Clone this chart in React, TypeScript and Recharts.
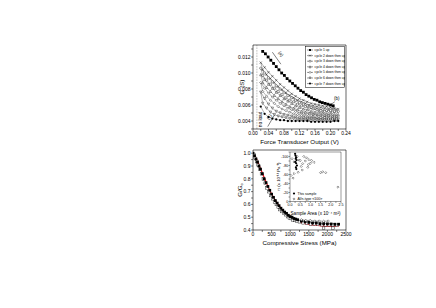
import {
  ComposedChart,
  Legend,
  Line,
  ReferenceDot,
  ReferenceLine,
  Scatter,
  XAxis,
  YAxis,
} from 'recharts';

const FONT = '"Liberation Sans", Arial, Helvetica, sans-serif';

// ---- top panel: G vs force transducer output ----
const forceTicks = [0, 0.02, 0.04, 0.06, 0.08, 0.1, 0.12, 0.14, 0.16, 0.18, 0.2, 0.22, 0.24];
const gTicks = [0.003, 0.004, 0.005, 0.006, 0.007, 0.008, 0.009, 0.01, 0.011, 0.012, 0.013];

const cycle1Force = [0.025, 0.032, 0.039, 0.046, 0.053, 0.06, 0.067, 0.074, 0.081, 0.088, 0.095, 0.102, 0.109, 0.116, 0.123, 0.13, 0.137, 0.144, 0.151, 0.158, 0.165, 0.172, 0.179, 0.186, 0.193, 0.2, 0.207];
const cycle1G = [0.0127, 0.0124, 0.012, 0.0116, 0.0112, 0.0108, 0.0104, 0.01, 0.0097, 0.0093, 0.009, 0.0087, 0.0084, 0.0081, 0.0078, 0.0076, 0.0073, 0.0071, 0.0069, 0.0067, 0.0066, 0.0064, 0.0063, 0.0062, 0.0061, 0.006, 0.0059];

// down branch read at 0.02..0.22, return branch at 0.025..0.215
const downForce = [0.02, 0.03, 0.04, 0.05, 0.06, 0.07, 0.08, 0.09, 0.1, 0.11, 0.12, 0.13, 0.14, 0.15, 0.16, 0.17, 0.18, 0.19, 0.2, 0.21, 0.22];
const upForce = [0.025, 0.035, 0.045, 0.055, 0.065, 0.075, 0.085, 0.095, 0.105, 0.115, 0.125, 0.135, 0.145, 0.155, 0.165, 0.175, 0.185, 0.195, 0.205, 0.215];
const cycle2Down = [0.0113, 0.0107, 0.0101, 0.0096, 0.0091, 0.0086, 0.0082, 0.0078, 0.0074, 0.0071, 0.0068, 0.0066, 0.0064, 0.0062, 0.0061, 0.006, 0.0059, 0.0058, 0.0057, 0.0056, 0.0055];
const cycle2Up = [0.0104, 0.0098, 0.0093, 0.0088, 0.0083, 0.0079, 0.0075, 0.0072, 0.0069, 0.0066, 0.0064, 0.0062, 0.006, 0.0059, 0.0058, 0.0057, 0.0056, 0.0055, 0.0055, 0.0054];
const cycle3Down = [0.0106, 0.01, 0.0094, 0.0089, 0.0084, 0.008, 0.0076, 0.0072, 0.0069, 0.0066, 0.0063, 0.0061, 0.0059, 0.0057, 0.0056, 0.0055, 0.0054, 0.0053, 0.0053, 0.0052, 0.0052];
const cycle3Up = [0.0097, 0.0091, 0.0086, 0.0081, 0.0077, 0.0073, 0.0069, 0.0066, 0.0064, 0.0061, 0.0059, 0.0058, 0.0056, 0.0055, 0.0054, 0.0053, 0.0052, 0.0052, 0.0051, 0.0051];
const cycle4Down = [0.0098, 0.0092, 0.0086, 0.0081, 0.0076, 0.0072, 0.0068, 0.0065, 0.0062, 0.0059, 0.0057, 0.0055, 0.0054, 0.0052, 0.0051, 0.0051, 0.005, 0.0049, 0.0049, 0.0048, 0.0048];
const cycle4Up = [0.0088, 0.0082, 0.0077, 0.0072, 0.0068, 0.0064, 0.0061, 0.0058, 0.0056, 0.0054, 0.0052, 0.0051, 0.005, 0.0049, 0.0048, 0.0048, 0.0047, 0.0047, 0.0046, 0.0046];
const cycle5Down = [0.0088, 0.0081, 0.0075, 0.007, 0.0066, 0.0062, 0.0059, 0.0056, 0.0054, 0.0052, 0.005, 0.0049, 0.0048, 0.0047, 0.0047, 0.0046, 0.0046, 0.0045, 0.0045, 0.0045, 0.0045];
const cycle5Up = [0.0077, 0.0071, 0.0066, 0.0062, 0.0058, 0.0055, 0.0053, 0.0051, 0.0049, 0.0048, 0.0047, 0.0046, 0.0045, 0.0045, 0.0044, 0.0044, 0.0044, 0.0043, 0.0043, 0.0043];
const cycle6Down = [0.0076, 0.0068, 0.0061, 0.0056, 0.0052, 0.005, 0.0048, 0.0047, 0.0046, 0.0045, 0.0044, 0.0044, 0.0043, 0.0043, 0.0043, 0.0042, 0.0042, 0.0042, 0.0042, 0.0042, 0.0042];
const cycle6Up = [0.0062, 0.0056, 0.0051, 0.0048, 0.0046, 0.0045, 0.0044, 0.0043, 0.0043, 0.0042, 0.0042, 0.0042, 0.0041, 0.0041, 0.0041, 0.0041, 0.0041, 0.0041, 0.0041, 0.0041];
const cycle7Down = [0.0058, 0.0049, 0.0045, 0.0043, 0.0042, 0.0041, 0.0041, 0.004, 0.004, 0.004, 0.004, 0.004, 0.004, 0.0039, 0.0039, 0.0039, 0.0039, 0.0039, 0.0039, 0.004, 0.004];

const cycleNames = ['cycle 1 up', 'cycle 2 down then up', 'cycle 3 down then up', 'cycle 4 down then up', 'cycle 5 down then up', 'cycle 6 down then up', 'cycle 7 down then up'];
const cycleMarks = ['square', 'cross', 'circle', 'triUp', 'diamond', 'triDown', 'dot'];

// ---- bottom panel: G/G0 vs compressive stress ----
const stressTicks = [0, 250, 500, 750, 1000, 1250, 1500, 1750, 2000, 2250, 2500];
const ratioTicks = [0.4, 0.45, 0.5, 0.55, 0.6, 0.65, 0.7, 0.75, 0.8, 0.85, 0.9, 0.95, 1.0];

const stressA = [0, 40, 80, 120, 160, 200, 250, 300, 350, 400, 450, 500, 550, 600, 650, 700, 750, 800, 850, 900, 950, 1000, 1050, 1100, 1150, 1200, 1300, 1400, 1500, 1600, 1700, 1800, 1900, 2000, 2100, 2200, 2300];
const ratioA = [1.0, 0.98, 0.955, 0.93, 0.9, 0.875, 0.84, 0.8, 0.77, 0.74, 0.71, 0.68, 0.655, 0.63, 0.61, 0.59, 0.57, 0.555, 0.54, 0.53, 0.515, 0.505, 0.5, 0.49, 0.485, 0.48, 0.47, 0.465, 0.46, 0.455, 0.455, 0.45, 0.45, 0.448, 0.447, 0.445, 0.445];
const stressB = [20, 60, 100, 140, 180, 230, 280, 330, 380, 430, 480, 530, 580, 630, 680, 730, 780, 830, 880, 930, 980, 1030, 1080, 1130, 1180, 1250, 1350, 1450, 1550, 1650, 1750, 1850, 1950, 2050, 2150, 2250];
const ratioB = [0.99, 0.96, 0.935, 0.905, 0.875, 0.84, 0.8, 0.765, 0.73, 0.7, 0.67, 0.645, 0.62, 0.6, 0.58, 0.56, 0.545, 0.53, 0.52, 0.505, 0.495, 0.49, 0.48, 0.475, 0.47, 0.465, 0.457, 0.452, 0.448, 0.446, 0.444, 0.442, 0.44, 0.44, 0.438, 0.436];
const stressD = [1300, 1420, 1540, 1660, 1780, 1900, 2020];
const ratioD = [0.48, 0.475, 0.475, 0.47, 0.47, 0.468, 0.47];
const stressLow = [1900, 2150];
const ratioLow = [0.415, 0.415];
const fitStress = [0, 100, 200, 300, 400, 500, 600, 700, 800, 900, 1000, 1200, 1400, 1600, 1800, 2000, 2300];
const fitRatio = [1.0, 0.95, 0.88, 0.81, 0.74, 0.68, 0.63, 0.59, 0.55, 0.52, 0.5, 0.47, 0.45, 0.44, 0.435, 0.43, 0.428];

// ---- inset: piezo coefficient vs sample area ----
const areaTicks = [0, 0.25, 0.5, 0.75, 1.0, 1.25, 1.5, 1.75, 2.0, 2.25, 2.5];
const piTicks = [-110, -100, -90, -80, -70, -60, -50, -40, -30, -20, -10, 0];
const sampleArea = [0.25, 0.27, 0.3, 0.28, 0.32, 0.26, 0.3, 0.34, 0.29, 0.31];
const samplePi = [-106, -102, -98, -95, -92, -88, -85, -80, -76, -72];
const alArea = [0.1, 0.2, 0.35, 0.45, 0.5, 0.62, 0.68, 0.75, 0.81, 0.87, 0.93, 1.0, 1.06, 1.18, 0.4, 0.55, 0.2, 0.05, 0.15, 1.5, 1.6, 1.75, 2.35, 0.6, 0.9];
const alPi = [-95, -88, -100, -92, -91, -84, -100, -90, -97, -76, -93, -85, -91, -87, -65, -78, -62, -58, -52, -64, -66, -64, -32, -70, -82];

const pts = (xs: number[], ys: number[]) => xs.map((x, i) => ({ x, y: ys[i] }));
// a full cycle: unloading path right-to-left, then reloading path left-to-right
const loop = (down: number[], up: number[]) => [...pts(downForce, down).reverse(), ...pts(upForce, up)];

function Marker({ cx, cy, kind, size = 2.2 }: { cx?: number; cy?: number; kind: string; size?: number }) {
  if (cx == null || cy == null || isNaN(cx) || isNaN(cy)) return null;
  const h = size / 2;
  const sw = 0.4;
  switch (kind) {
    case 'square':
      return <rect x={cx - h} y={cy - h} width={size} height={size} fill="#000" />;
    case 'osquare':
      return <rect x={cx - h} y={cy - h} width={size} height={size} fill="#fff" stroke="#000" strokeWidth={sw} />;
    case 'cross':
      return <path d={`M${cx - h},${cy - h}L${cx + h},${cy + h}M${cx - h},${cy + h}L${cx + h},${cy - h}`} stroke="#000" strokeWidth={sw} />;
    case 'circle':
      return <circle cx={cx} cy={cy} r={h} fill="#fff" stroke="#000" strokeWidth={sw} />;
    case 'dot':
      return <circle cx={cx} cy={cy} r={h} fill="#000" />;
    case 'triUp':
      return <path d={`M${cx},${cy - h}L${cx + h},${cy + h}L${cx - h},${cy + h}Z`} fill="#fff" stroke="#000" strokeWidth={sw} />;
    case 'triDown':
      return <path d={`M${cx},${cy + h}L${cx + h},${cy - h}L${cx - h},${cy - h}Z`} fill="#fff" stroke="#000" strokeWidth={sw} />;
    case 'diamond':
      return <path d={`M${cx},${cy - h}L${cx + h},${cy}L${cx},${cy + h}L${cx - h},${cy}Z`} fill="#fff" stroke="#000" strokeWidth={sw} />;
    default:
      return null;
  }
}

function RotText({ viewBox, text, angle, size = 4.5 }: any) {
  const x = viewBox.x + (viewBox.width || 0) / 2;
  const y = viewBox.y + (viewBox.height || 0) / 2;
  return (
    <text x={x} y={y} transform={`rotate(${angle} ${x} ${y})`} textAnchor="middle" dominantBaseline="central" fontSize={size} fill="#000">
      {text}
    </text>
  );
}

function XTitle({ viewBox, value, dy, size }: any) {
  return (
    <text x={viewBox.x + viewBox.width / 2} y={viewBox.y + dy} textAnchor="middle" fontSize={size} fill="#000">
      {value}
    </text>
  );
}

function YTitle({ viewBox, children, dx, size }: any) {
  const x = viewBox.x + viewBox.width - dx;
  const y = viewBox.y + viewBox.height / 2;
  return (
    <text x={x} y={y} transform={`rotate(-90 ${x} ${y})`} textAnchor="middle" dominantBaseline="central" fontSize={size} fill="#000">
      {children}
    </text>
  );
}

function CycleLegend() {
  return (
    <svg width={40} height={42} style={{ display: 'block' }}>
      <rect x={0.3} y={0.3} width={39.4} height={41.4} fill="#fff" stroke="#000" strokeWidth={0.5} />
      {cycleNames.map((name, i) => {
        const y = 4 + i * 5.6;
        return (
          <g key={name}>
            <line x1={2} x2={8} y1={y} y2={y} stroke="#000" strokeWidth={0.4} />
            <Marker cx={5} cy={y} kind={cycleMarks[i]} size={2} />
            <text x={9.5} y={y} dominantBaseline="central" fontSize={3.3} fill="#000">
              {name}
            </text>
          </g>
        );
      })}
    </svg>
  );
}

function InsetLegend() {
  return (
    <svg width={40} height={11} style={{ display: 'block' }}>
      <Marker cx={2} cy={2.5} kind="dot" size={2.2} />
      <text x={5.5} y={2.5} dominantBaseline="central" fontSize={3.5} fill="#000">This sample</text>
      <Marker cx={2} cy={8} kind="diamond" size={2.2} />
      <text x={5.5} y={8} dominantBaseline="central" fontSize={3.5} fill="#000">{'Al/n-type <100>'}</text>
    </svg>
  );
}

const axisLine = { stroke: '#000', strokeWidth: 0.6 };
const tickLine = { stroke: '#000', strokeWidth: 0.5 };
const tickFont = { fontSize: 5, fill: '#000' };
const blank = () => '';

function TopPanel() {
  const loops = [
    loop(cycle2Down, cycle2Up),
    loop(cycle3Down, cycle3Up),
    loop(cycle4Down, cycle4Up),
    loop(cycle5Down, cycle5Up),
    loop(cycle6Down, cycle6Up),
    pts(downForce, cycle7Down),
  ];
  return (
    <ComposedChart width={200} height={116} margin={{ top: 11, right: 50, bottom: 0, left: 0 }}>
      <XAxis
        type="number"
        dataKey="x"
        domain={[0, 0.24]}
        ticks={forceTicks}
        allowDataOverflow
        interval={0}
        height={17}
        tickSize={2}
        tickMargin={0.5}
        axisLine={axisLine}
        tickLine={tickLine}
        tick={tickFont}
        tickFormatter={(v: number) => (Math.round(v * 100) % 4 === 0 ? v.toFixed(2) : '')}
        label={(p: any) => <XTitle viewBox={p.viewBox} value="Force Transducer Output (V)" dy={14.5} size={6.2} />}
      />
      <YAxis
        type="number"
        dataKey="y"
        domain={[0.003, 0.0135]}
        ticks={gTicks}
        allowDataOverflow
        interval={0}
        width={53}
        tickSize={2}
        tickMargin={0.5}
        axisLine={axisLine}
        tickLine={tickLine}
        tick={tickFont}
        tickFormatter={(v: number) => (Math.round(v * 1000) % 2 === 0 ? v.toFixed(3) : '')}
        label={(p: any) => (
          <YTitle viewBox={p.viewBox} dx={12} size={6.2}>
            G (S)
          </YTitle>
        )}
      />
      <XAxis xAxisId="top" orientation="top" type="number" domain={[0, 0.24]} ticks={forceTicks} interval={0} height={4} tickSize={2} axisLine={axisLine} tickLine={tickLine} tickFormatter={blank} />
      <YAxis yAxisId="right" orientation="right" type="number" domain={[0.003, 0.0135]} ticks={gTicks} interval={0} width={4} tickSize={2} axisLine={axisLine} tickLine={tickLine} tickFormatter={blank} />

      <ReferenceLine x={0.01} stroke="#555" strokeWidth={0.6} strokeDasharray="0.6 1" />

      {loops.map((data, i) => (
        <Line
          key={cycleNames[i + 1]}
          name={cycleNames[i + 1]}
          data={data}
          dataKey="y"
          type="linear"
          stroke="#000"
          strokeWidth={0.3}
          dot={(p: any) => <Marker key={`${i}-${p.index}`} cx={p.cx} cy={p.cy} kind={cycleMarks[i + 1]} size={2.3} />}
          isAnimationActive={false}
        />
      ))}
      <Line
        name={cycleNames[0]}
        data={pts(cycle1Force, cycle1G)}
        dataKey="y"
        type="linear"
        stroke="#000"
        strokeWidth={0.45}
        dot={(p: any) => <Marker key={`c1-${p.index}`} cx={p.cx} cy={p.cy} kind="square" size={2.8} />}
        isAnimationActive={false}
      />

      <ReferenceLine segment={[{ x: 0.05, y: 0.0126 }, { x: 0.072, y: 0.0111 }]} stroke="#000" strokeWidth={0.5} />
      <ReferenceDot x={0.072} y={0.0124} r={0.01} fill="none" stroke="none" label={(p: any) => <RotText viewBox={p.viewBox} text="(a)" angle={50} size={4.5} />} />
      <ReferenceLine segment={[{ x: 0.196, y: 0.0059 }, { x: 0.211, y: 0.0064 }]} stroke="#000" strokeWidth={0.5} />
      <ReferenceDot x={0.216} y={0.0068} r={0.01} fill="none" stroke="none" label={(p: any) => <RotText viewBox={p.viewBox} text="(b)" angle={0} size={4.5} />} />
      <ReferenceLine segment={[{ x: 0.038, y: 0.0033 }, { x: 0.056, y: 0.0048 }]} stroke="#000" strokeWidth={0.5} />
      <ReferenceDot x={0.042} y={0.0045} r={0.01} fill="none" stroke="none" label={(p: any) => <RotText viewBox={p.viewBox} text="(c)" angle={-50} size={4.5} />} />
      <ReferenceDot x={0.019} y={0.0042} r={0.01} fill="none" stroke="none" label={(p: any) => <RotText viewBox={p.viewBox} text="no load" angle={-90} size={4.8} />} />

      <Legend
        layout="vertical"
        align="center"
        verticalAlign="middle"
        wrapperStyle={{ left: 105, top: 16, width: 40, height: 42 }}
        content={() => <CycleLegend />}
      />
    </ComposedChart>
  );
}

function BottomPanel() {
  return (
    <ComposedChart width={200} height={108} margin={{ top: 7, right: 50, bottom: 0, left: 0 }}>
      <XAxis
        type="number"
        dataKey="x"
        domain={[0, 2500]}
        ticks={stressTicks}
        allowDataOverflow
        interval={0}
        height={17}
        tickSize={2}
        tickMargin={0.5}
        axisLine={axisLine}
        tickLine={tickLine}
        tick={tickFont}
        tickFormatter={(v: number) => (v % 500 === 0 ? String(v) : '')}
        label={(p: any) => <XTitle viewBox={p.viewBox} value="Compressive Stress (MPa)" dy={15} size={6.2} />}
      />
      <YAxis
        type="number"
        dataKey="y"
        domain={[0.4, 1.025]}
        ticks={ratioTicks}
        allowDataOverflow
        interval={0}
        width={53}
        tickSize={2}
        tickMargin={0.5}
        axisLine={axisLine}
        tickLine={tickLine}
        tick={tickFont}
        tickFormatter={(v: number) => (Math.round(v * 100) % 10 === 0 ? v.toFixed(1) : '')}
        label={(p: any) => (
          <YTitle viewBox={p.viewBox} dx={14} size={6.2}>
            G/G<tspan fontSize={4} dy={1.5}>o</tspan>
          </YTitle>
        )}
      />
      <XAxis xAxisId="top" orientation="top" type="number" domain={[0, 2500]} ticks={stressTicks} interval={0} height={4} tickSize={2} axisLine={axisLine} tickLine={tickLine} tickFormatter={blank} />
      <YAxis yAxisId="right" orientation="right" type="number" domain={[0.4, 1.025]} ticks={ratioTicks} interval={0} width={4} tickSize={2} axisLine={axisLine} tickLine={tickLine} tickFormatter={blank} />

      <Scatter name="cycles open" data={pts(stressB, ratioB)} dataKey="y" isAnimationActive={false} shape={(p: any) => <Marker cx={p.cx} cy={p.cy} kind="osquare" size={2.8} />} />
      <Scatter name="cycles filled" data={pts(stressA, ratioA)} dataKey="y" isAnimationActive={false} shape={(p: any) => <Marker cx={p.cx} cy={p.cy} kind="square" size={2.8} />} />
      <Scatter name="low" data={pts(stressLow, ratioLow)} dataKey="y" isAnimationActive={false} shape={(p: any) => <Marker cx={p.cx} cy={p.cy} kind="osquare" size={2.4} />} />
      <Line
        name="diamonds"
        data={pts(stressD, ratioD)}
        dataKey="y"
        type="linear"
        stroke="#000"
        strokeWidth={0.35}
        dot={(p: any) => <Marker key={`d-${p.index}`} cx={p.cx} cy={p.cy} kind="diamond" size={2.4} />}
        isAnimationActive={false}
      />
      <Line name="fit" data={pts(fitStress, fitRatio)} dataKey="y" type="monotone" stroke="#e8101a" strokeWidth={1.3} dot={false} isAnimationActive={false} />
    </ComposedChart>
  );
}

function InsetPanel() {
  const insetTick = { fontSize: 3.6, fill: '#000' };
  const thin = { stroke: '#000', strokeWidth: 0.4 };
  return (
    <ComposedChart width={79} height={68.5} margin={{ top: 0, right: 0, bottom: 0, left: 0 }}>
      <XAxis
        type="number"
        dataKey="x"
        domain={[0, 2.5]}
        ticks={areaTicks}
        allowDataOverflow
        interval={0}
        height={15}
        tickSize={1.5}
        tickMargin={0.3}
        axisLine={thin}
        tickLine={thin}
        tick={insetTick}
        tickFormatter={(v: number) => (Math.round(v * 100) % 50 === 0 ? v.toFixed(1) : '')}
        label={(p: any) => <XTitle viewBox={p.viewBox} value="Sample Area (x 10⁻⁴ m²)" dy={13.5} size={4.6} />}
      />
      <YAxis
        type="number"
        dataKey="y"
        domain={[-110, 0]}
        reversed
        ticks={piTicks}
        allowDataOverflow
        interval={0}
        width={25}
        tickSize={1.5}
        tickMargin={0.3}
        axisLine={thin}
        tickLine={thin}
        tick={insetTick}
        tickFormatter={(v: number) => (v % 20 === 0 ? String(v) : '')}
        label={(p: any) => (
          <YTitle viewBox={p.viewBox} dx={11.5} size={4.4}>
            π (x 10⁻¹¹ Pa⁻¹)
          </YTitle>
        )}
      />
      <XAxis xAxisId="top" orientation="top" type="number" domain={[0, 2.5]} ticks={areaTicks} interval={0} height={4} tickSize={1.5} axisLine={thin} tickLine={thin} tickFormatter={blank} />
      <YAxis yAxisId="right" orientation="right" type="number" domain={[-110, 0]} reversed ticks={piTicks} interval={0} width={3} tickSize={1.5} axisLine={thin} tickLine={thin} tickFormatter={blank} />

      <Scatter name="Al/n-type <100>" data={pts(alArea, alPi)} dataKey="y" isAnimationActive={false} shape={(p: any) => <Marker cx={p.cx} cy={p.cy} kind="diamond" size={2.2} />} />
      <Scatter name="This sample" data={pts(sampleArea, samplePi)} dataKey="y" isAnimationActive={false} shape={(p: any) => <Marker cx={p.cx} cy={p.cy} kind="dot" size={2.2} />} />
      <Legend layout="vertical" align="center" verticalAlign="middle" wrapperStyle={{ left: 27, top: 43, width: 40, height: 11 }} content={() => <InsetLegend />} />
    </ComposedChart>
  );
}

export default function App() {
  return (
    <div style={{ position: 'absolute', left: 0, top: 0, width: 436, height: 308, background: '#fff', fontFamily: FONT }}>
      <div style={{ position: 'absolute', left: 200, top: 30 }}>
        <TopPanel />
      </div>
      <div style={{ position: 'absolute', left: 200, top: 139 }}>
        <BottomPanel />
      </div>
      <div style={{ position: 'absolute', left: 265, top: 147.5 }}>
        <InsetPanel />
      </div>
    </div>
  );
}
